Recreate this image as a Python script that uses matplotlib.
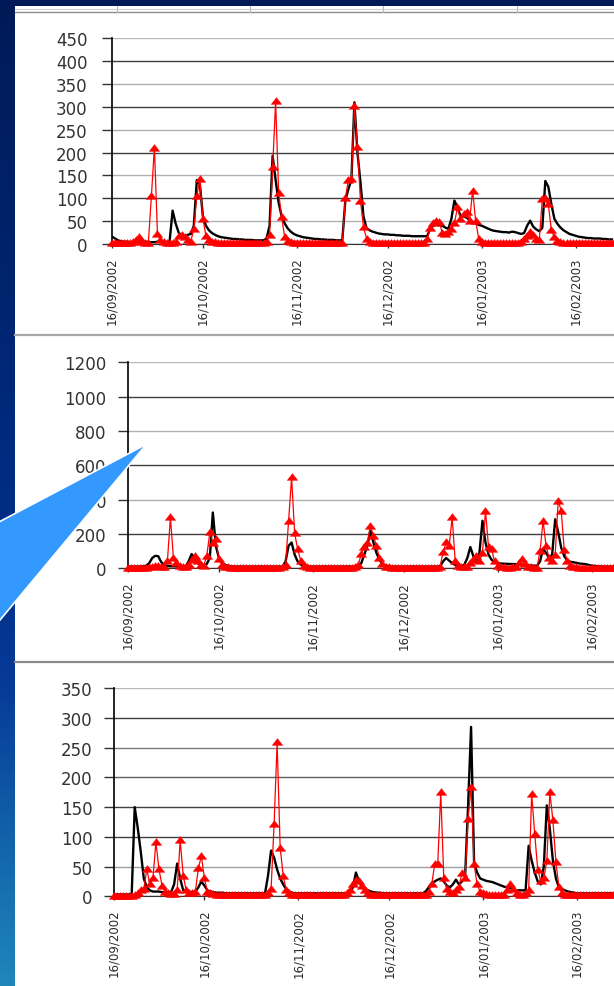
import numpy as np
import matplotlib
matplotlib.use("Agg")
import matplotlib.pyplot as plt
import matplotlib.dates as mdates
from matplotlib.colors import LinearSegmentedColormap
from matplotlib.patches import Rectangle, Polygon

W, H = 614, 987

# daily series, 16/09/2002 -> 28/02/2003
start = np.datetime64("2002-09-16")
dates = np.arange(start, np.datetime64("2003-03-01"))

# station 1 : observed (black) / simulated (red)
p1_obs = [16, 12, 8, 6, 5, 5, 4, 4, 5, 6,
          5, 5, 4, 4, 4, 5, 5, 4, 4, 5,
          73, 45, 25, 18, 17, 20, 22, 40, 140, 130,
          60, 40, 30, 24, 20, 17, 15, 14, 13, 12,
          11, 11, 10, 10, 9, 9, 9, 8, 8, 8,
          8, 12, 40, 193, 140, 90, 60, 45, 34, 27,
          22, 19, 17, 15, 14, 13, 12, 11, 11, 10,
          10, 9, 9, 9, 8, 8, 8, 95, 120, 140,
          310, 200, 135, 60, 35, 30, 27, 25, 23, 22,
          21, 21, 20, 20, 19, 19, 18, 18, 18, 17,
          17, 17, 17, 17, 17, 33, 40, 42, 41, 40,
          36, 33, 55, 95, 80, 62, 60, 58, 52, 48,
          45, 42, 40, 37, 34, 31, 29, 28, 27, 26,
          26, 25, 27, 26, 24, 22, 24, 40, 51, 38,
          32, 28, 35, 138, 125, 87, 55, 44, 36, 30,
          26, 22, 20, 18, 16, 15, 14, 13, 13, 12,
          12, 12, 11, 11, 10, 10]
p1_sim = [2, 2, 2, 2, 2, 2, 3, 4, 8, 16,
          5, 3, 3, 105, 211, 22, 8, 4, 3, 3,
          3, 4, 18, 20, 15, 8, 5, 33, 106, 142,
          55, 18, 8, 5, 4, 3, 3, 3, 2, 2,
          2, 2, 2, 2, 2, 2, 2, 2, 2, 2,
          3, 4, 20, 168, 312, 112, 58, 15, 6, 4,
          3, 3, 3, 2, 2, 2, 2, 2, 2, 2,
          2, 2, 2, 2, 2, 2, 3, 100, 140, 142,
          302, 212, 94, 37, 12, 5, 3, 3, 2, 2,
          2, 2, 2, 2, 2, 2, 2, 2, 2, 2,
          2, 2, 2, 2, 10, 35, 45, 51, 48, 25,
          22, 26, 33, 45, 80, 55, 66, 70, 50, 117,
          51, 12, 4, 3, 3, 3, 2, 2, 2, 2,
          2, 2, 2, 2, 3, 5, 10, 18, 26, 20,
          12, 8, 98, 100, 87, 30, 15, 6, 4, 3,
          3, 2, 2, 2, 2, 2, 2, 2, 2, 2,
          2, 2, 2, 2, 2, 2]

# station 2
p2_obs = [10, 10, 10, 10, 10, 12, 15, 30, 60, 73,
          70, 35, 18, 14, 12, 12, 11, 10, 10, 10,
          40, 83, 60, 30, 20, 15, 25, 60, 325, 130,
          60, 30, 20, 15, 12, 10, 10, 10, 10, 10,
          10, 10, 10, 10, 10, 10, 10, 10, 10, 10,
          10, 10, 40, 131, 150, 80, 40, 22, 15, 12,
          10, 10, 10, 10, 10, 10, 10, 10, 10, 10,
          10, 10, 10, 10, 10, 10, 12, 30, 80, 130,
          219, 150, 90, 50, 25, 15, 12, 10, 10, 10,
          10, 10, 10, 10, 10, 10, 10, 10, 10, 10,
          10, 10, 10, 12, 40, 60, 45, 30, 20, 15,
          15, 20, 60, 124, 70, 45, 90, 277, 150, 80,
          50, 35, 30, 28, 27, 26, 25, 25, 24, 24,
          22, 20, 18, 16, 15, 15, 40, 112, 90, 60,
          80, 286, 210, 120, 70, 45, 38, 35, 32, 28,
          26, 24, 20, 16, 14, 12, 11, 10, 10, 10,
          10, 10, 10, 10, 10, 10]
p2_sim = [3, 3, 3, 3, 3, 3, 4, 6, 10, 15,
          12, 8, 6, 40, 296, 60, 30, 15, 8, 5,
          20, 50, 70, 45, 20, 15, 73, 209, 150, 170,
          55, 20, 8, 5, 4, 3, 3, 3, 3, 3,
          3, 3, 3, 3, 3, 3, 3, 3, 3, 3,
          3, 5, 20, 277, 529, 205, 112, 45, 15, 6,
          4, 3, 3, 3, 3, 3, 3, 3, 3, 3,
          3, 3, 3, 3, 3, 5, 20, 83, 124, 150,
          248, 190, 130, 60, 25, 10, 5, 4, 3, 3,
          3, 3, 3, 3, 3, 3, 3, 3, 3, 3,
          3, 3, 3, 10, 93, 151, 130, 296, 40, 15,
          8, 6, 10, 30, 50, 70, 40, 90, 335, 125,
          112, 40, 12, 6, 5, 4, 4, 5, 10, 30,
          54, 25, 8, 5, 4, 4, 100, 277, 130, 60,
          40, 80, 393, 335, 105, 40, 15, 8, 5, 4,
          4, 3, 3, 3, 3, 3, 3, 3, 3, 3,
          3, 3, 3, 3, 3, 3]

# station 3
p3_obs = [3, 3, 3, 3, 3, 3, 3, 150, 115, 75,
          30, 15, 10, 8, 8, 8, 7, 7, 7, 7,
          20, 55, 30, 10, 8, 7, 7, 8, 15, 25,
          18, 10, 8, 7, 6, 6, 6, 5, 5, 5,
          5, 5, 5, 5, 5, 5, 5, 5, 5, 5,
          5, 35, 77, 65, 45, 30, 20, 12, 8, 6,
          5, 5, 5, 5, 5, 5, 5, 5, 5, 5,
          5, 5, 5, 5, 5, 5, 5, 5, 6, 15,
          40, 25, 15, 12, 10, 8, 7, 6, 6, 5,
          5, 5, 5, 5, 5, 5, 5, 5, 5, 5,
          5, 5, 5, 8, 15, 22, 25, 28, 30, 25,
          18, 15, 20, 28, 20, 25, 30, 150, 285, 55,
          40, 30, 28, 26, 25, 24, 22, 20, 18, 16,
          15, 14, 12, 10, 10, 10, 10, 85, 60, 40,
          25, 20, 50, 153, 113, 60, 30, 15, 12, 10,
          8, 7, 6, 5, 5, 5, 5, 5, 5, 5,
          5, 5, 5, 5, 5, 5]
p3_sim = [1, 1, 1, 1, 1, 1, 1, 2, 5, 10,
          12, 46, 20, 30, 91, 46, 18, 8, 5, 4,
          4, 10, 94, 35, 10, 6, 5, 8, 47, 68,
          30, 8, 5, 4, 3, 3, 3, 3, 3, 3,
          3, 3, 3, 3, 3, 3, 3, 3, 3, 3,
          3, 5, 12, 122, 259, 82, 35, 10, 5, 3,
          3, 3, 3, 3, 3, 3, 3, 3, 3, 3,
          3, 3, 3, 3, 3, 3, 3, 5, 10, 20,
          28, 25, 18, 10, 5, 3, 3, 3, 3, 3,
          3, 3, 3, 3, 3, 3, 3, 3, 3, 3,
          3, 3, 3, 3, 8, 20, 54, 55, 175, 30,
          12, 8, 6, 10, 15, 40, 30, 130, 184, 54,
          20, 8, 5, 4, 3, 3, 3, 3, 3, 3,
          10, 20, 12, 5, 3, 3, 5, 10, 172, 105,
          45, 25, 30, 60, 175, 128, 57, 15, 5, 3,
          3, 3, 3, 3, 3, 3, 3, 3, 3, 3,
          3, 3, 3, 3, 3, 3]

PX_PER_DAY = 3.03

# (obs, sim, ymax, ystep, left px, top px, bottom px, tick pad, gridline shades bottom->top)
panels = [
    (p1_obs, p1_sim, 450, 50, 112, 39.3, 245.0, 10.5,
     ["#404040", "#b0b0b0", "#404040", "#b0b0b0", "#404040",
      "#b0b0b0", "#404040", "#b0b0b0", "#404040", "#b8b8b8"]),
    (p2_obs, p2_sim, 1200, 200, 128, 363.3, 569.3, 8.5,
     ["#404040", "#404040", "#b0b0b0", "#404040", "#b0b0b0",
      "#404040", "#b8b8b8"]),
    (p3_obs, p3_sim, 350, 50, 113.5, 689.3, 897.3, 8.0,
     ["#404040", "#a0a0a0", "#404040", "#404040", "#606060",
      "#7a7a7a", "#404040", "#b8b8b8"]),
]


def frac(left, top, right, bottom):
    return [left / W, 1 - bottom / H, (right - left) / W, (bottom - top) / H]


fig = plt.figure(figsize=(W / 100, H / 100), dpi=100)

# slide background, white sheet and separators, in pixel coordinates
bg = fig.add_axes([0, 0, 1, 1], zorder=-10)
bg.set_xlim(0, W)
bg.set_ylim(H, 0)
bg.axis("off")
slide = LinearSegmentedColormap.from_list(
    "slide", [(0.0, "#001a57"), (0.3, "#00246f"), (0.55, "#002e88"),
              (0.7, "#063b97"), (0.85, "#1262aa"), (1.0, "#1f86ba")])
bg.imshow(np.linspace(0, 1, 256).reshape(-1, 1), cmap=slide, aspect="auto",
          extent=[0, W, H, 0])
bg.add_patch(Rectangle((15, 7), W - 15, H - 7, facecolor="white", edgecolor="none"))
bg.plot([15, W], [10.3, 10.3], color="#d4d4d4", lw=0.8)
bg.plot([15, W], [12.8, 12.8], color="#8c8c8c", lw=1.0)
for xc in (117, 250, 383, 517):
    bg.plot([xc, xc], [7, 13], color="#b8b8b8", lw=0.8)
bg.plot([15, W], [336, 336], color="#a8a8a8", lw=1.6)
bg.plot([15, W], [662.8, 662.8], color="#8a8a8a", lw=1.6)

# wide triangle marker
tri = [(-1.0, -0.55), (1.0, -0.55), (0.0, 0.75), (-1.0, -0.55)]

for obs, sim, ymax, ystep, left, top, bottom, pad, shades in panels:
    ax = fig.add_axes(frac(left, top, W, bottom))
    ax.set_facecolor("none")
    ax.plot(dates, obs, color="black", lw=1.7, zorder=3)
    ax.plot(dates, sim, color="red", lw=0.9, marker=tri, ms=7.5,
            mfc="red", mec="red", mew=0.3, clip_on=False, zorder=4)

    ax.set_ylim(0, ymax)
    ax.set_yticks(np.arange(0, ymax + 1, ystep))
    span = (W - left) / PX_PER_DAY
    ax.set_xlim(start, start + np.timedelta64(int(round(span * 24)), "h"))
    ax.xaxis.set_major_locator(mdates.MonthLocator(bymonthday=16))
    ax.xaxis.set_major_formatter(mdates.DateFormatter("%d/%m/%Y"))

    ax.set_axisbelow(True)
    ax.grid(axis="y", lw=1.0)
    for gl, c in zip(ax.get_ygridlines(), shades):
        gl.set_color(c)

    for s in ("top", "right"):
        ax.spines[s].set_visible(False)
    ax.spines["left"].set_color("black")
    ax.spines["left"].set_linewidth(1.2)
    ax.spines["bottom"].set_color("#333333")

    ax.tick_params(axis="y", length=7, width=1, color="#333333", pad=pad,
                   labelsize=12, labelcolor="#333333")
    ax.tick_params(axis="x", length=3, width=1, color="#333333", pad=6,
                   labelsize=8.5, labelcolor="#2a2a2a", labelrotation=90)

# callout pointing into the middle chart
ov = fig.add_axes([0, 0, 1, 1], zorder=10)
ov.set_xlim(0, W)
ov.set_ylim(H, 0)
ov.axis("off")
ov.add_patch(Polygon([(146.7, 445), (-20, 533), (-20, 645)], closed=True,
                     facecolor="#3399ff", edgecolor="white", lw=1.2))

fig.savefig("out.png", dpi=100)
